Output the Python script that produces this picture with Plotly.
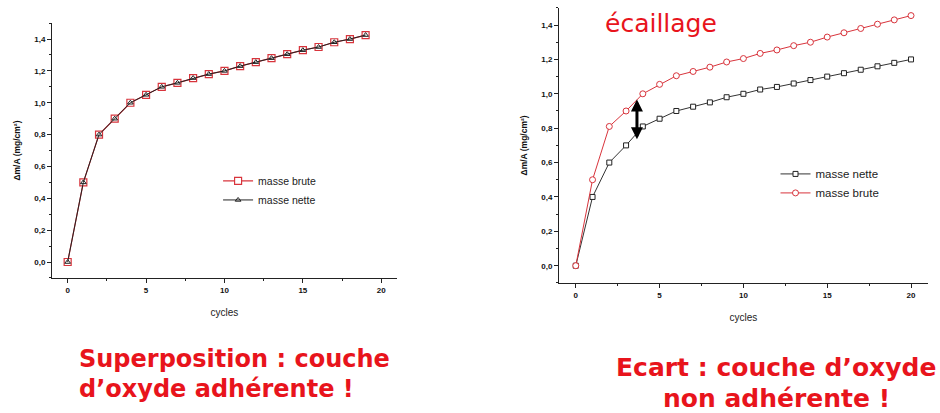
import plotly.graph_objects as go

# ---- data ----
cycles_left = list(range(0, 20))
brute_left = [0.0, 0.50, 0.80, 0.90, 1.00, 1.05, 1.10, 1.125, 1.155, 1.18, 1.20,
              1.23, 1.255, 1.28, 1.305, 1.33, 1.35, 1.38, 1.40, 1.425]
nette_left = [0.0, 0.50, 0.80, 0.90, 1.00, 1.05, 1.10, 1.125, 1.155, 1.18, 1.20,
              1.23, 1.255, 1.28, 1.305, 1.33, 1.35, 1.38, 1.40, 1.425]

cycles_right = list(range(0, 21))
nette_right = [0.0, 0.40, 0.60, 0.70, 0.81, 0.855, 0.90, 0.925, 0.95, 0.98, 1.00,
               1.025, 1.04, 1.06, 1.08, 1.10, 1.12, 1.14, 1.16, 1.18, 1.20]
brute_right = [0.0, 0.50, 0.81, 0.90, 1.00, 1.055, 1.105, 1.13, 1.155, 1.185, 1.205,
               1.235, 1.255, 1.28, 1.30, 1.33, 1.355, 1.38, 1.405, 1.43, 1.455]

arrow_x = 3.65
arrow_top = 0.975
arrow_bottom = 0.735

RED_LINE = "#d8343c"
RED_TEXT = "#e8141c"
TXT_FONT = "DejaVu Sans"

fig = go.Figure()

# left chart
fig.add_trace(go.Scatter(x=cycles_left, y=brute_left, mode="lines+markers", name="masse brute",
                         line=dict(color=RED_LINE, width=1.2),
                         marker=dict(symbol="square", size=7, color="white", line=dict(width=1.2, color=RED_LINE)),
                         xaxis="x", yaxis="y", legend="legend"))
fig.add_trace(go.Scatter(x=cycles_left, y=nette_left, mode="lines+markers", name="masse nette",
                         line=dict(color="#222222", width=1),
                         marker=dict(symbol="triangle-up-open", size=5, color="#222222", line=dict(width=1)),
                         xaxis="x", yaxis="y", legend="legend"))

# right chart
fig.add_trace(go.Scatter(x=cycles_right, y=nette_right, mode="lines+markers", name="masse nette",
                         line=dict(color="#333333", width=1),
                         marker=dict(symbol="square", size=5, color="white", line=dict(width=1, color="#222222")),
                         xaxis="x2", yaxis="y2", legend="legend2"))
fig.add_trace(go.Scatter(x=cycles_right, y=brute_right, mode="lines+markers", name="masse brute",
                         line=dict(color=RED_LINE, width=1),
                         marker=dict(symbol="circle", size=6, color="white", line=dict(width=1, color=RED_LINE)),
                         xaxis="x2", yaxis="y2", legend="legend2"))

tickfont = dict(family="Liberation Sans", size=8, color="#111111", weight="bold")
common_x = dict(range=[-1, 21], tickvals=[0, 5, 10, 15, 20], showline=True, linecolor="#222222",
                linewidth=1, ticks="outside", ticklen=4, tickcolor="#222222", showgrid=False,
                zeroline=False, tickfont=tickfont, automargin=False,
                minor=dict(dtick=2.5, tick0=0, ticks="outside", ticklen=2, tickcolor="#222222"),
                title=dict(text="cycles", standoff=15, font=dict(family="Liberation Sans", size=10, color="#222222")))
common_y = dict(range=[-0.1, 1.5], tickvals=[0, 0.2, 0.4, 0.6, 0.8, 1.0, 1.2, 1.4], tickformat=".1f",
                showline=True, linecolor="#222222", linewidth=1, ticks="outside", ticklen=4,
                tickcolor="#222222", showgrid=False, zeroline=False, tickfont=tickfont, automargin=False,
                minor=dict(dtick=0.1, tick0=0, ticks="outside", ticklen=2, tickcolor="#222222"),
                title=dict(text="<b>Δm/A (mg/cm²)</b>", standoff=12,
                           font=dict(family="Liberation Sans", size=8.5, color="#111111")))

fig.update_layout(
    width=940, height=413,
    margin=dict(l=0, r=0, t=0, b=0, autoexpand=False),
    paper_bgcolor="white", plot_bgcolor="white",
    separators=", ",
    xaxis=dict(domain=[0.0553, 0.4223], anchor="y", **common_x),
    yaxis=dict(domain=[0.327, 0.944], anchor="x", **common_y),
    xaxis2=dict(domain=[0.5947, 0.987], anchor="y2", **common_x),
    yaxis2=dict(domain=[0.315, 0.981], anchor="x2", **common_y),
    legend=dict(x=0.232, y=0.597, xanchor="left", yanchor="top", bgcolor="rgba(0,0,0,0)",
                font=dict(family="Liberation Sans", size=10.5, color="#222222"), tracegroupgap=0,
                itemwidth=30),
    legend2=dict(x=0.825, y=0.614, xanchor="left", yanchor="top", bgcolor="rgba(0,0,0,0)",
                 font=dict(family="Liberation Sans", size=11.5, color="#222222"), tracegroupgap=0,
                 itemwidth=30),
    showlegend=True,
)

# double arrow
fig.add_annotation(x=arrow_x, y=arrow_bottom, ax=arrow_x, ay=arrow_top, xref="x2", yref="y2",
                   axref="x2", ayref="y2", showarrow=True, arrowhead=2, arrowside="end+start",
                   arrowwidth=3, arrowsize=0.8, arrowcolor="#000000", text="")

fig.add_annotation(x=0.641, y=0.944, xref="paper", yref="paper", xanchor="left", yanchor="middle",
                   text="écaillage", showarrow=False,
                   font=dict(family=TXT_FONT, size=25, color=RED_TEXT))

texts = [
    ("<b>Superposition : couche</b>", 0.082, 1 - 359 / 413, "left", 24),
    ("<b>d’oxyde adhérente !</b>", 0.082, 1 - 389 / 413, "left", 24),
    ("<b>Ecart : couche d’oxyde</b>", 0.826, 1 - 367 / 413, "center", 25),
    ("<b>non adhérente !</b>", 0.826, 1 - 398 / 413, "center", 25),
]
for txt, xx, yy, anc, sz in texts:
    fig.add_annotation(x=xx, y=yy, xref="paper", yref="paper", xanchor=anc, yanchor="middle",
                       text=txt, showarrow=False, font=dict(family=TXT_FONT, size=sz, color=RED_TEXT))

fig.write_html("out.html", config={"displayModeBar": False},
               post_script="document.body.style.margin='0';")
